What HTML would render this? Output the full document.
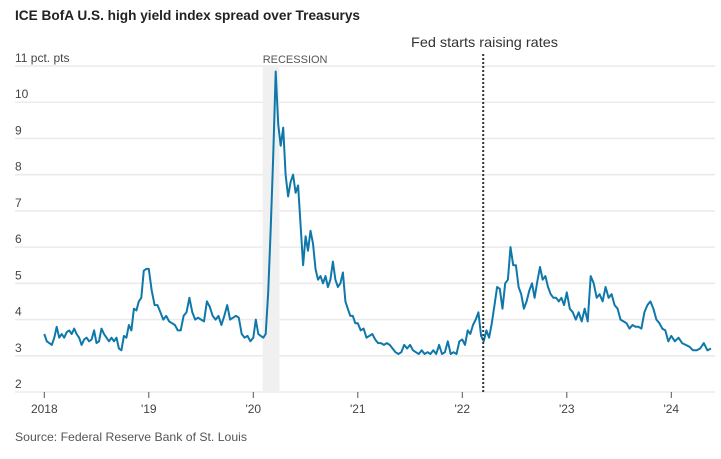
<!DOCTYPE html>
<html><head><meta charset="utf-8">
<style>
html,body{margin:0;padding:0;background:#fff;}
svg{display:block;font-family:"Liberation Sans",sans-serif;}
</style></head>
<body>
<svg id="chart" width="721" height="459" viewBox="0 0 721 459" xmlns="http://www.w3.org/2000/svg">
<text x="15" y="20" font-size="14" font-weight="bold" fill="#222" textLength="345" lengthAdjust="spacingAndGlyphs">ICE BofA U.S. high yield index spread over Treasurys</text>
<g id="grid"></g>
<g id="shade"></g>
<g id="ticks"></g>
<g id="series"></g>
<g id="annot"></g>
<text x="15" y="441" font-size="12" fill="#555" textLength="232" lengthAdjust="spacingAndGlyphs">Source: Federal Reserve Bank of St. Louis</text>
</svg>
<script>
const yTicks = [2,3,4,5,6,7,8,9,10,11];
const yearLabels = ["2018","'19","'20","'21","'22","'23","'24"];
const years = [2018,2019,2020,2021,2022,2023,2024];
const v2018 = [3.6,3.4,3.35,3.3,3.5,3.8,3.5,3.6,3.5,3.65,3.7,3.6,3.75,3.6,3.5,3.3,3.45,3.5,3.4,3.45,3.7,3.35,3.4,3.75,3.6,3.5,3.4,3.5,3.4,3.5,3.2,3.15,3.55,3.5,3.85,3.7,4.3,4.25,4.5,4.6,5.35,5.4];
const v2019 = [5.4,4.8,4.4,4.4,4.2,4.0,4.1,3.95,3.9,3.85,3.7,3.7,4.1,4.2,4.6,4.2,4.0,4.05,4.0,3.95,4.5,4.35,4.1,4.0,4.1,3.85,4.1,4.4,4.0,4.05,4.1,4.05,3.6,3.5,3.55,3.4];
const v2020 = [3.5,4.0,3.6,3.55,3.5,3.6,4.75,6.5,8.5,10.85,9.4,8.8,9.3,8.0,7.4,7.8,8.0,7.5,7.7,6.6,5.5,6.3,5.9,6.45,6.1,5.4,5.1,5.2,5.0,5.2,4.9,5.1,5.6,5.1,4.9,5.0,5.3,4.5,4.3,4.1,4.1,3.9];
const v2021 = [3.9,3.7,3.75,3.5,3.55,3.6,3.45,3.35,3.35,3.3,3.35,3.3,3.2,3.1,3.05,3.1,3.3,3.2,3.3,3.15,3.1,3.05,3.15,3.05,3.1,3.05,3.15,3.05,3.3,3.05,3.1,3.4,3.05,3.1,3.05,3.4];
const v2022 = [3.45,3.3,3.7,3.6,3.85,4.0,4.2,3.55,3.4,3.7,3.5,3.9,4.4,4.9,4.85,4.3,5.0,5.1,6.0,5.5,5.5,4.9,4.7,4.3,4.5,4.8,5.0,4.6,5.05,5.45,5.1,5.2,4.9,4.7,4.6,4.6,4.5,4.6,4.4];
const v2023 = [4.75,4.3,4.2,4.0,4.2,3.95,4.3,3.95,5.2,5.0,4.6,4.7,4.5,4.9,4.6,4.7,4.4,4.3,4.0,3.95,3.9,3.75,3.85,3.8,3.8,3.75,4.2,4.4,4.5,4.3,4.0,3.9,3.75,3.7,3.4];
const v2024 = [3.55,3.4,3.5,3.35,3.3,3.25,3.15,3.15,3.2,3.35,3.15,3.2];
const seriesByYear = [v2018,v2019,v2020,v2021,v2022,v2023,v2024];
const lastYearSpan = 0.38;
const recession = [2020.09,2020.25];
const fedStart = 2022.2;

const NS="http://www.w3.org/2000/svg";
const x = t => 44.3 + (t-2018)*104.5;
const y = v => 392 - (v-2)*36.22;
function mk(tag,attrs,parent,txt){const e=document.createElementNS(NS,tag);for(const k in attrs)e.setAttribute(k,attrs[k]);if(txt!==undefined)e.textContent=txt;document.getElementById(parent).appendChild(e);return e;}

yTicks.forEach((t,i)=>{
  const l=mk('line',{x1:15,x2:715,y1:y(t),y2:y(t),stroke:'#ebebeb','stroke-width':1.6},'grid');
  
  
  const lab = (t===11) ? '11 pct. pts' : String(t);
  const tx=mk('text',{x:15,y:y(t)-4,'font-size':12,fill:'#444'},'grid',lab);
  
  
});

const r=mk('rect',{x:x(recession[0]),y:y(11),width:x(recession[1])-x(recession[0]),height:y(2)-y(11),fill:'#f0f0f1'},'shade');


const rl=mk('text',{x:x(recession[0]),y:y(11)-3,'font-size':11,fill:'#555'},'shade','RECESSION');



years.forEach((yr,i)=>{
  const tk=mk('line',{x1:x(yr),x2:x(yr),y1:392,y2:398,stroke:'#555','stroke-width':1},'ticks');
  
  
  const tl=mk('text',{x:x(yr),y:413,'font-size':12,fill:'#444','text-anchor':'middle'},'ticks',yearLabels[i]);
  
  
});

let pts=[];
seriesByYear.forEach((arr,i)=>{
  const span = (i===seriesByYear.length-1) ? lastYearSpan : 1;
  const n = arr.length;
  arr.forEach((v,j)=>{
    const t = years[i] + span*j/(i===seriesByYear.length-1 ? n-1 : n);
    pts.push(x(t).toFixed(1)+','+y(v).toFixed(1));
  });
});
const p=mk('polyline',{points:pts.join(' '),fill:'none',stroke:'#0f78aa','stroke-width':2,'stroke-linejoin':'round'},'series');



const fl=mk('line',{x1:x(fedStart),x2:x(fedStart),y1:54,y2:392,stroke:'#333','stroke-width':2,'stroke-dasharray':'2,2'},'annot');


const ft=mk('text',{x:411,y:47,'font-size':14,fill:'#333',textLength:147,lengthAdjust:'spacingAndGlyphs'},'annot','Fed starts raising rates');


</script>
</body></html>
